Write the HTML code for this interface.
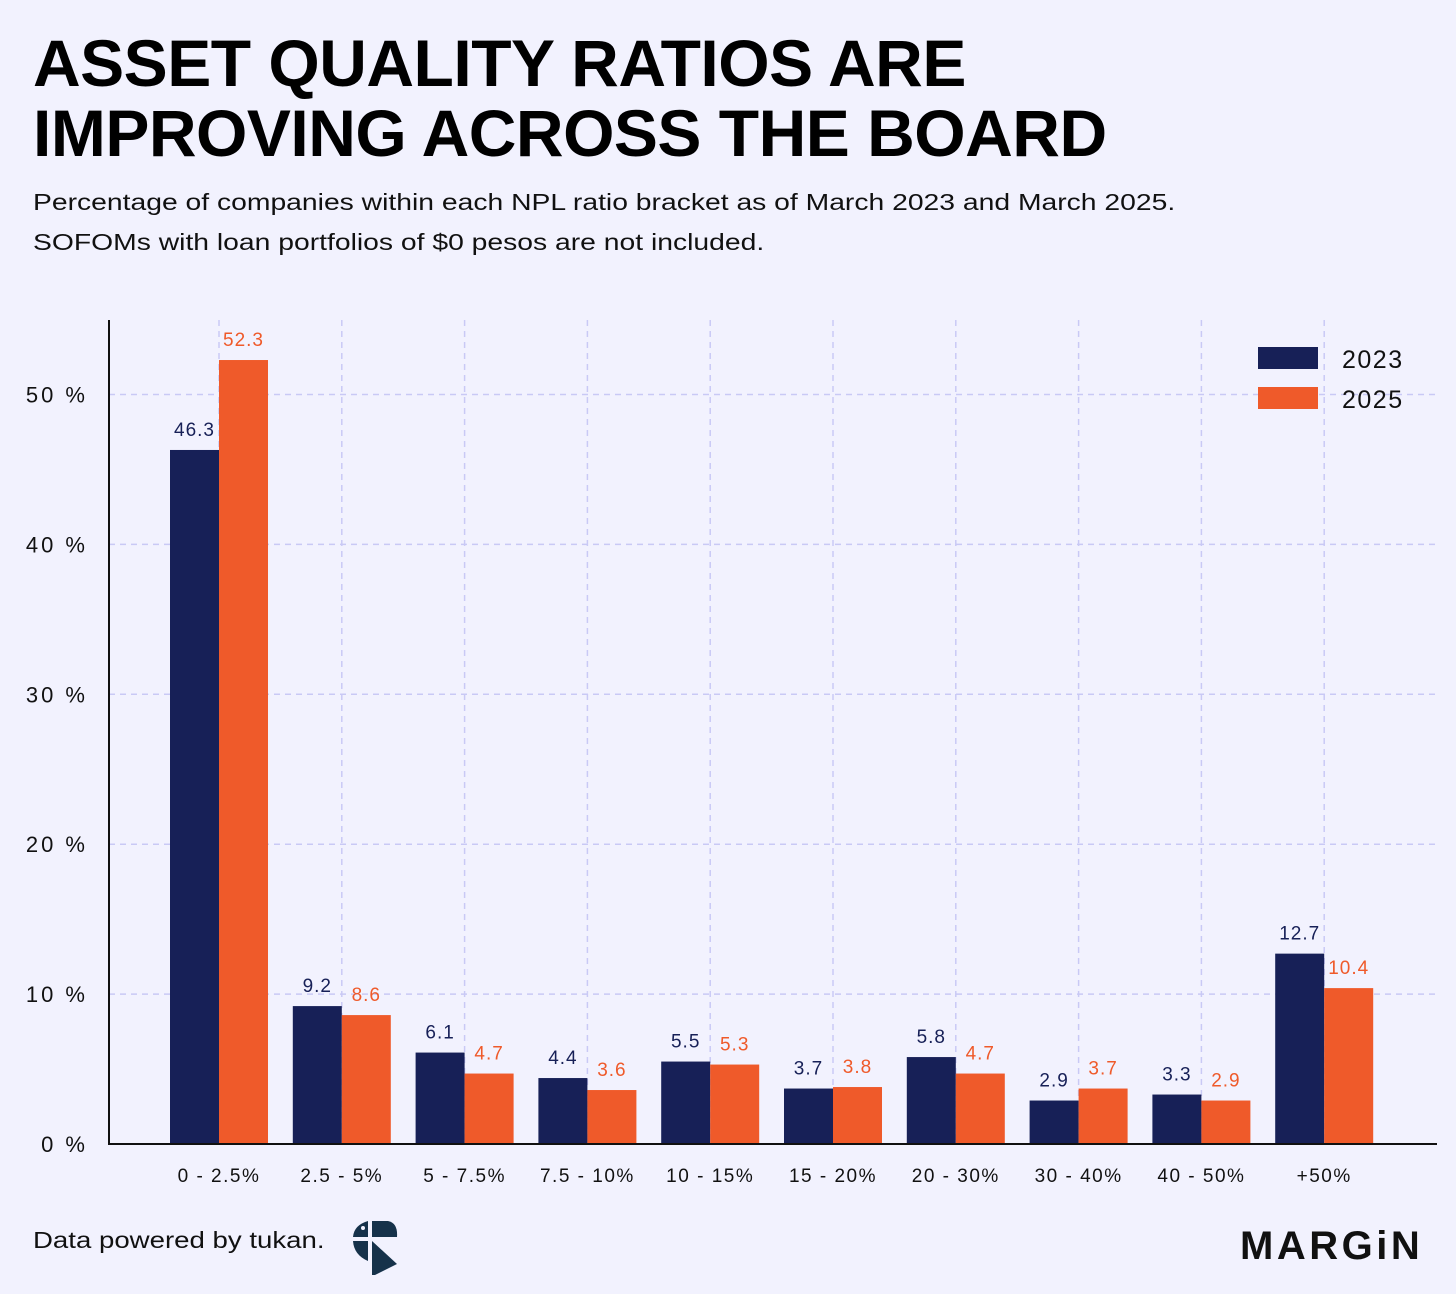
<!DOCTYPE html>
<html><head><meta charset="utf-8"><style>
body{margin:0;background:#f2f2fe;font-family:"Liberation Sans",sans-serif;}
#wrap{position:relative;width:1456px;height:1294px;overflow:hidden;background:#f2f2fe;}
h1{position:absolute;left:33px;top:28px;margin:0;font-size:66px;line-height:70px;font-weight:bold;color:#000;letter-spacing:-0.5px;white-space:nowrap;}
.sub{position:absolute;left:33px;font-size:23px;color:#111;white-space:nowrap;transform:scaleX(1.23);transform-origin:left top;}
</style></head><body>
<div id="wrap">
<h1>ASSET QUALITY RATIOS ARE<br>IMPROVING ACROSS THE BOARD</h1>
<div class="sub" style="top:189px">Percentage of companies within each NPL ratio bracket as of March 2023 and March 2025.</div>
<div class="sub" style="top:229px">SOFOMs with loan portfolios of $0 pesos are not included.</div>
<svg id="chart" width="1456" height="1294" style="position:absolute;left:0;top:0"></svg>
<div style="position:absolute;left:33px;top:1227px;font-size:23px;color:#111;white-space:nowrap;transform:scaleX(1.2);transform-origin:left top">Data powered by tukan.</div>
<svg style="position:absolute;left:350px;top:1219px" width="50" height="58" viewBox="0 0 50 58">
<path d="M18 2 L18 18 L3 18 Q4 6 18 2Z" fill="#16324a"/>
<circle cx="13" cy="9" r="2" fill="#f2f2fe"/>
<path d="M22 2 L38 2 Q48 4 47 18 L22 18Z" fill="#16324a"/>
<path d="M3 22 L18 22 L18 42 Q4 36 3 22Z" fill="#16324a"/>
<path d="M22 22 L47 45 L25 56 L22 56Z" fill="#16324a"/>
</svg>
<div style="position:absolute;left:1240px;top:1224px;font-size:40px;font-weight:bold;color:#111;letter-spacing:3.5px">MARGiN</div>
</div>
<script>
const categories=["0 - 2.5%","2.5 - 5%","5 - 7.5%","7.5 - 10%","10 - 15%","15 - 20%","20 - 30%","30 - 40%","40 - 50%","+50%"];
const values2023=[46.3,9.2,6.1,4.4,5.5,3.7,5.8,2.9,3.3,12.7];
const values2025=[52.3,8.6,4.7,3.6,5.3,3.8,4.7,3.7,2.9,10.4];
const yTicks=[0,10,20,30,40,50];
const seriesNames=["2023","2025"];
const C1="#172057",C2="#ef5a2a";
const svg=document.getElementById('chart');
const NS="http://www.w3.org/2000/svg";
function el(t,a){const e=document.createElementNS(NS,t);for(const k in a)e.setAttribute(k,a[k]);svg.appendChild(e);return e;}
const y0=1144,pxPer=14.99;
function yS(v){return y0-v*pxPer;}
const x0=219,step=122.8,bw=49;
function xS(i){return x0+i*step;}
yTicks.forEach(t=>{
 if(t>0){const g=el('line',{x1:109,x2:1436,y1:yS(t),y2:yS(t),stroke:"#c9c9f5","stroke-width":1.5,"stroke-dasharray":"6,5"});
 
 }
 const tx=el('text',{x:88,y:yS(t)+8,"text-anchor":"end","font-size":22,fill:"#111","font-family":"Liberation Sans","letter-spacing":"3"});
 tx.textContent=t+" %";
 
 
});
categories.forEach((c,i)=>{
 const g=el('line',{x1:xS(i),x2:xS(i),y1:320,y2:y0,stroke:"#c9c9f5","stroke-width":1.5,"stroke-dasharray":"6,5"});
 
 
});
categories.forEach((c,i)=>{
 const b1=el('rect',{x:xS(i)-bw,y:yS(values2023[i]),width:bw,height:values2023[i]*pxPer,fill:C1});
 
 
 const b2=el('rect',{x:xS(i),y:yS(values2025[i]),width:bw,height:values2025[i]*pxPer,fill:C2});
 
 
 const l1=el('text',{x:xS(i)-bw/2,y:yS(values2023[i])-14,"text-anchor":"middle","font-size":19,fill:C1,"font-family":"Liberation Sans","letter-spacing":"1"});
 l1.textContent=values2023[i].toFixed(1);
 
 
 const l2=el('text',{x:xS(i)+bw/2,y:yS(values2025[i])-14,"text-anchor":"middle","font-size":19,fill:C2,"font-family":"Liberation Sans","letter-spacing":"1"});
 l2.textContent=values2025[i].toFixed(1);
 
 
 const xl=el('text',{x:xS(i),y:1182,"text-anchor":"middle","font-size":19,fill:"#111","font-family":"Liberation Sans","letter-spacing":"1.5"});
 xl.textContent=c;
 
 
});
const ax=el('line',{x1:109,x2:109,y1:320,y2:y0,stroke:"#111","stroke-width":2});


const bx=el('line',{x1:108,x2:1437,y1:y0,y2:y0,stroke:"#111","stroke-width":2});


[C1,C2].forEach((col,k)=>{
 const r=el('rect',{x:1258,y:347+k*40,width:60,height:22,fill:col});
 
 
 const t=el('text',{x:1342,y:368+k*40,"font-size":25,fill:"#111","font-family":"Liberation Sans","letter-spacing":"1.5"});
 t.textContent=seriesNames[k];
 
 
});
</script>
</body></html>
